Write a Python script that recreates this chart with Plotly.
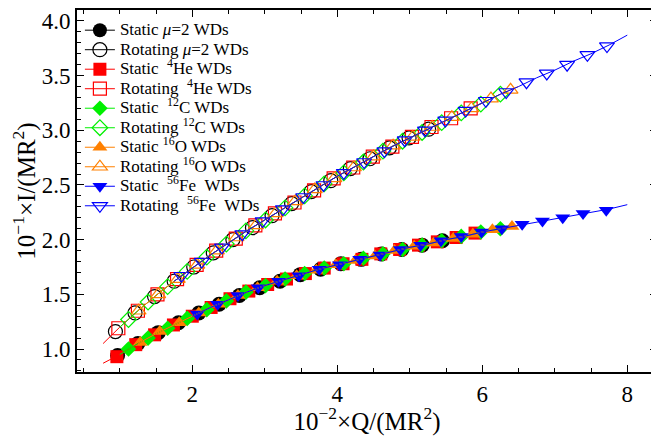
import plotly.graph_objects as go

# ---------------- data ----------------
# Static stars (lower branch)
st_mu2_x = [0.97, 1.25, 1.53, 1.81, 2.09, 2.37, 2.65, 2.93, 3.21, 3.49, 3.77, 4.05, 4.33, 4.61, 4.89, 5.17, 5.45]
st_mu2_y = [0.94, 1.05, 1.15, 1.24, 1.33, 1.41, 1.49, 1.56, 1.62, 1.68, 1.73, 1.78, 1.82, 1.87, 1.91, 1.95, 1.99]

st_he_x = [0.96, 1.22, 1.48, 1.74, 2.00, 2.26, 2.52, 2.78, 3.04, 3.30, 3.56, 3.82, 4.08, 4.34, 4.60, 4.86, 5.12, 5.38, 5.64, 5.90]
st_he_y = [0.93, 1.04, 1.13, 1.22, 1.30, 1.38, 1.46, 1.53, 1.59, 1.64, 1.69, 1.74, 1.78, 1.82, 1.87, 1.91, 1.95, 1.98, 2.02, 2.06]

st_c_x = [1.12, 1.39, 1.66, 1.93, 2.20, 2.47, 2.74, 3.01, 3.28, 3.55, 3.82, 4.09, 4.36, 4.63, 4.90, 5.17, 5.44, 5.71, 5.98, 6.25]
st_c_y = [1.00, 1.10, 1.19, 1.28, 1.36, 1.44, 1.52, 1.58, 1.64, 1.69, 1.74, 1.78, 1.83, 1.87, 1.91, 1.95, 1.99, 2.03, 2.07, 2.10]

st_o_x = [1.28, 1.55, 1.82, 2.09, 2.36, 2.63, 2.90, 3.17, 3.44, 3.71, 3.98, 4.25, 4.52, 4.79, 5.06, 5.33, 5.60, 5.87, 6.14, 6.41]
st_o_y = [1.06, 1.16, 1.24, 1.33, 1.41, 1.49, 1.56, 1.62, 1.67, 1.72, 1.77, 1.81, 1.85, 1.90, 1.94, 1.97, 2.01, 2.05, 2.09, 2.12]

st_fe_x = [2.07, 2.35, 2.63, 2.91, 3.19, 3.47, 3.75, 4.03, 4.31, 4.59, 4.87, 5.15, 5.43, 5.71, 5.99, 6.27, 6.55, 6.83, 7.11, 7.39, 7.71]
st_fe_y = [1.32, 1.41, 1.49, 1.56, 1.62, 1.67, 1.73, 1.77, 1.82, 1.86, 1.91, 1.95, 1.99, 2.03, 2.07, 2.10, 2.14, 2.17, 2.20, 2.24, 2.27]

# Rotating stars (upper branch)
rt_mu2_x = [0.94, 1.21, 1.48, 1.75, 2.02, 2.29, 2.56, 2.83, 3.10, 3.37, 3.64, 3.91, 4.18, 4.45, 4.72, 4.99, 5.26]
rt_mu2_y = [1.16, 1.33, 1.48, 1.62, 1.75, 1.88, 2.00, 2.11, 2.22, 2.33, 2.44, 2.54, 2.65, 2.74, 2.84, 2.93, 3.01]

rt_he_x = [0.98, 1.25, 1.52, 1.79, 2.06, 2.33, 2.60, 2.87, 3.14, 3.41, 3.68, 3.95, 4.22, 4.49, 4.76, 5.03, 5.30, 5.57, 5.84]
rt_he_y = [1.19, 1.35, 1.50, 1.64, 1.77, 1.90, 2.01, 2.13, 2.24, 2.34, 2.45, 2.56, 2.66, 2.76, 2.85, 2.94, 3.03, 3.11, 3.20]

rt_c_x = [1.12, 1.39, 1.66, 1.93, 2.20, 2.47, 2.74, 3.01, 3.28, 3.55, 3.82, 4.09, 4.36, 4.63, 4.90, 5.17, 5.44, 5.71, 5.98, 6.25]
rt_c_y = [1.27, 1.43, 1.57, 1.71, 1.84, 1.96, 2.08, 2.18, 2.29, 2.40, 2.51, 2.61, 2.71, 2.81, 2.90, 2.98, 3.07, 3.16, 3.24, 3.33]

rt_o_x = [1.26, 1.53, 1.80, 2.07, 2.34, 2.61, 2.88, 3.15, 3.42, 3.69, 3.96, 4.23, 4.50, 4.77, 5.04, 5.31, 5.58, 5.85, 6.12, 6.39]
rt_o_y = [1.35, 1.50, 1.64, 1.77, 1.90, 2.02, 2.13, 2.24, 2.35, 2.46, 2.56, 2.66, 2.76, 2.86, 2.94, 3.03, 3.12, 3.20, 3.29, 3.37]

rt_fe_x = [1.85, 2.13, 2.41, 2.69, 2.97, 3.25, 3.53, 3.81, 4.09, 4.37, 4.65, 4.93, 5.21, 5.49, 5.77, 6.05, 6.33, 6.61, 6.89, 7.17, 7.45, 7.72]
rt_fe_y = [1.67, 1.80, 1.93, 2.05, 2.17, 2.28, 2.39, 2.50, 2.61, 2.71, 2.81, 2.91, 3.00, 3.09, 3.18, 3.27, 3.35, 3.44, 3.52, 3.60, 3.69, 3.77]

# Fit curves
fit_x = [0.77, 1.0, 1.25, 1.5, 1.75, 2.0, 2.25, 2.5, 2.75, 3.0, 3.25, 3.5, 3.75, 4.0, 4.25,
         4.5, 4.75, 5.0, 5.25, 5.5, 5.75, 6.0, 6.25, 6.5, 6.75, 7.0, 7.25, 7.5, 7.75, 8.0]
fit_static = [0.87, 0.95, 1.05, 1.14, 1.22, 1.30, 1.38, 1.45, 1.52, 1.58, 1.63, 1.68, 1.73, 1.77, 1.81,
              1.85, 1.89, 1.93, 1.96, 2.00, 2.03, 2.07, 2.10, 2.13, 2.16, 2.19, 2.22, 2.25, 2.28, 2.32]
fit_rot = [1.05, 1.20, 1.35, 1.49, 1.62, 1.74, 1.86, 1.97, 2.08, 2.18, 2.28, 2.38, 2.48, 2.58, 2.67,
           2.76, 2.85, 2.93, 3.01, 3.09, 3.17, 3.25, 3.33, 3.40, 3.48, 3.55, 3.63, 3.70, 3.78, 3.87]

# ---------------- styling ----------------
BLACK = "#000000"
RED = "#ff0000"
GREEN = "#00f000"
ORANGE = "#ff8000"
BLUE = "#0000ff"
FONT = "Liberation Serif"

def big(s):
    return '<span style="font-size:17px">' + s + '</span>'

series = [
    ("Static <i>μ</i>=2 WDs", st_mu2_x, st_mu2_y, "circle", BLACK, 15),
    ("Rotating <i>μ</i>=2 WDs", rt_mu2_x, rt_mu2_y, "circle-open", BLACK, 14),
    ("Static \u00a0<sup>4</sup>He WDs", st_he_x, st_he_y, "square", RED, 13),
    ("Rotating \u00a0<sup>4</sup>He WDs", rt_he_x, rt_he_y, "square-open", RED, 13),
    ("Static \u00a0<sup>12</sup>C WDs", st_c_x, st_c_y, "diamond", GREEN, 12),
    ("Rotating <sup>12</sup>C WDs", rt_c_x, rt_c_y, "diamond-open", GREEN, 12),
    ("Static <sup>16</sup>O WDs", st_o_x, st_o_y, "triangle-up", ORANGE, 13),
    ("Rotating <sup>16</sup>O WDs", rt_o_x, rt_o_y, "triangle-up-open", ORANGE, 13),
    ("Static \u00a0<sup>56</sup>Fe \u00a0WDs", st_fe_x, st_fe_y, "triangle-down", BLUE, 13),
    ("Rotating \u00a0<sup>56</sup>Fe \u00a0WDs", rt_fe_x, rt_fe_y, "triangle-down-open", BLUE, 13),
]

fig = go.Figure()

for name, xs, ys, sym, col, sz in series:
    is_open = sym.endswith("open")
    fig.add_trace(go.Scatter(
        x=xs, y=ys, mode="markers", name=name, showlegend=False,
        marker=dict(symbol=sym, size=sz, color=col,
                    line=dict(color=col, width=1.2 if is_open else 0)),
    ))

line_segments = [
    (RED, 0, 22, 0, 22),
    (GREEN, 1, 23, 1, 23),
    (ORANGE, 2, 24, 2, 24),
    (BLUE, 5, len(fit_x), 4, len(fit_x)),
]
for col, s0, s1, r0, r1 in line_segments:
    fig.add_trace(go.Scatter(x=fit_x[s0:s1], y=fit_static[s0:s1], mode="lines",
                             line=dict(color=col, width=1), showlegend=False, hoverinfo="skip"))
    fig.add_trace(go.Scatter(x=fit_x[r0:r1], y=fit_rot[r0:r1], mode="lines",
                             line=dict(color=col, width=1), showlegend=False, hoverinfo="skip"))

for name, xs, ys, sym, col, sz in series:
    is_open = sym.endswith("open")
    fig.add_trace(go.Scatter(
        x=[None], y=[None], mode="lines+markers", name=big(name),
        marker=dict(symbol=sym, size=min(sz, 14), color=col,
                    line=dict(color=col, width=1.2 if is_open else 0)),
        line=dict(color=col, width=1),
    ))

fig.update_xaxes(
    range=[0.41, 8.41], tick0=0, dtick=2,
    showline=True, linecolor="black", linewidth=2, mirror="ticks",
    ticks="inside", ticklen=7, tickwidth=1, tickcolor="black",
    minor=dict(dtick=0.5, ticks="inside", ticklen=4, tickwidth=1, tickcolor="black"),
    showgrid=False, zeroline=False,
    tickfont=dict(family=FONT, size=23, color="black"),
    title=dict(text="10<sup>−2</sup>×Q/(MR<sup>2</sup>)", font=dict(family=FONT, size=25, color="black"),
               standoff=3),
)
fig.update_yaxes(
    range=[0.79, 4.1], tick0=0, dtick=0.5, tickformat=".1f",
    showline=True, linecolor="black", linewidth=2, mirror="ticks",
    ticks="inside", ticklen=7, tickwidth=1, tickcolor="black",
    minor=dict(dtick=0.1, ticks="inside", ticklen=4, tickwidth=1, tickcolor="black"),
    showgrid=False, zeroline=False,
    tickfont=dict(family=FONT, size=23, color="black"),
    title=dict(text="10<sup>−1</sup>×I/(MR<sup>2</sup>)", font=dict(family=FONT, size=25, color="black"),
               standoff=2),
)

fig.update_layout(
    width=651, height=428,
    margin=dict(l=69, r=2, t=2, b=64, autoexpand=False),
    paper_bgcolor="white", plot_bgcolor="white",
    showlegend=True,
    legend=dict(x=0.005, y=0.985, xanchor="left", yanchor="top",
                bgcolor="rgba(0,0,0,0)", borderwidth=0, tracegroupgap=0,
                font=dict(family=FONT, size=12.7, color="black"), itemsizing="trace"),
    font=dict(family=FONT, color="black"),
)

fig.write_html("out.html")
